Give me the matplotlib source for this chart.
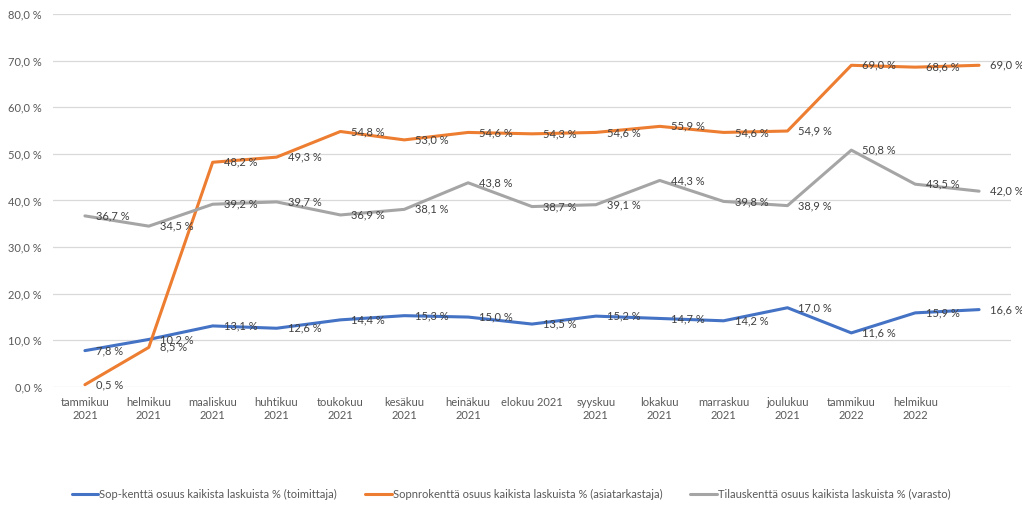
import matplotlib
matplotlib.use("Agg")
import matplotlib.pyplot as plt

plt.rcParams['font.family'] = ['Lato', 'DejaVu Sans']

categories = ["tammikuu\n2021", "helmikuu\n2021", "maaliskuu\n2021", "huhtikuu\n2021",
              "toukokuu\n2021", "kesäkuu\n2021", "heinäkuu\n2021", "elokuu 2021",
              "syyskuu\n2021", "lokakuu\n2021", "marraskuu\n2021", "joulukuu\n2021",
              "tammikuu\n2022", "helmikuu\n2022", ""]

sop = [7.8, 10.2, 13.1, 12.6, 14.4, 15.3, 15.0, 13.5, 15.2, 14.7, 14.2, 17.0, 11.6, 15.9, 16.6]
sopnro = [0.5, 8.5, 48.2, 49.3, 54.8, 53.0, 54.6, 54.3, 54.6, 55.9, 54.6, 54.9, 69.0, 68.6, 69.0]
tilaus = [36.7, 34.5, 39.2, 39.7, 36.9, 38.1, 43.8, 38.7, 39.1, 44.3, 39.8, 38.9, 50.8, 43.5, 42.0]

series_names = ["Sop-kenttä osuus kaikista laskuista % (toimittaja)",
                "Sopnrokenttä osuus kaikista laskuista % (asiatarkastaja)",
                "Tilauskenttä osuus kaikista laskuista % (varasto)"]
colors = ["#4472C4", "#ED7D31", "#A5A5A5"]

yticks = [0, 10, 20, 30, 40, 50, 60, 70, 80]

def fmt(v):
    return f"{v:.1f}".replace(".", ",") + " %"

fig = plt.figure(figsize=(10.22, 5.08), dpi=100)
ax = fig.add_axes([53/1022, 1-387/508, (1011-53)/1022, (387-14)/508])

x = list(range(len(categories)))
for vals, name, c in zip([sop, sopnro, tilaus], series_names, colors):
    ax.plot(x, vals, color=c, lw=2.2, label=name, solid_capstyle='round', zorder=3)
    for xi, v in zip(x, vals):
        ax.annotate(fmt(v), (xi, v), xytext=(11, 0), textcoords='offset pixels',
                    ha='left', va='center', fontsize=8, color='#404040', zorder=4)

ax.set_xlim(-0.5, len(categories) - 0.5)
ax.set_ylim(0, 80)
ax.set_yticks(yticks)
ax.set_yticklabels([fmt(t) for t in yticks])
ax.set_xticks(x)
ax.set_xticklabels(categories)
ax.tick_params(axis='both', length=0, labelsize=8, labelcolor='#595959')
ax.tick_params(axis='y', pad=8)
ax.tick_params(axis='x', pad=7)
for s in ax.spines.values():
    s.set_visible(False)
ax.grid(axis='y', color='#D9D9D9', lw=0.9, zorder=0)
ax.set_axisbelow(True)

fig.legend(loc='center', bbox_to_anchor=(0.5, 1-494/508), ncol=3, frameon=False,
           fontsize=8, handlelength=2.4, handletextpad=0.1, columnspacing=2.5,
           labelcolor='#595959')

fig.savefig("out.png", dpi=100)
